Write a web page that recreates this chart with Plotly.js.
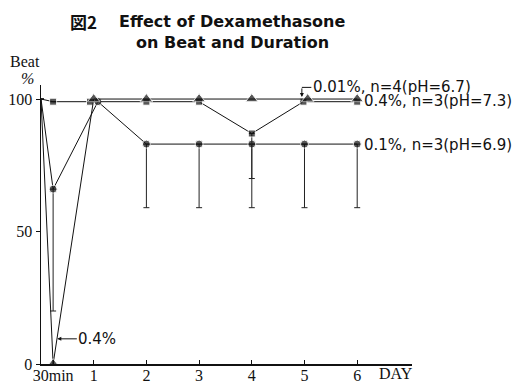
<!DOCTYPE html>
<html>
<head>
<meta charset="utf-8">
<script src="https://cdn.plot.ly/plotly-3.0.1.min.js"></script>
<style>html,body{margin:0;padding:0;background:#fff;}#chart{width:526px;height:384px;}</style>
</head>
<body>
<div id="chart"></div>
<script>
// ---- data ----
const tickVals = [0.23, 1, 2, 3, 4, 5, 6];
const tickLabels = ['30min', '1', '2', '3', '4', '5', '6'];

// 0.01%, n=4 (pH=6.7)  squares
const xSq = [0, 0.23, 0.93, 2, 3, 4, 4.98, 6];
const ySq = [100, 99, 99, 99, 99, 87, 99, 99];
const errSq = [0, 0, 0, 0, 0, 17, 0, 0];

// 0.4%, n=3 (pH=7.3)  triangles
const xTri = [0, 0.23, 1, 2, 3, 4, 5.06, 6];
const yTri = [100, 0, 100, 100, 100, 100, 100, 100];

// 0.1%, n=3 (pH=6.9)  circles
const xCir = [0, 0.23, 1.08, 2, 3, 4, 5, 6];
const yCir = [100, 66, 99, 83, 83, 83, 83, 83];
const errCir = [0, 46, 0, 24, 24, 24, 24, 24];

const lbl001 = '0.01%, n=4(pH=6.7)';
const lbl04 = '0.4%, n=3(pH=7.3)';
const lbl01 = '0.1%, n=3(pH=6.9)';

const firstHidden = (n, s) => Array.from({length: n}, (_, i) => i === 0 ? 0 : s);

const traces = [
  {
    x: xCir, y: yCir, mode: 'lines+markers', name: lbl01,
    line: {color: '#111', width: 1},
    marker: {symbol: 'circle', size: firstHidden(xCir.length, 8), color: '#111'},
    error_y: {type: 'data', symmetric: false, array: xCir.map(() => 0), arrayminus: errCir,
              color: '#222', thickness: 1, width: 3}
  },
  {
    x: xSq, y: ySq, mode: 'lines+markers', name: lbl001,
    line: {color: '#111', width: 1},
    marker: {symbol: 'square', size: firstHidden(xSq.length, 7), color: '#111'},
    error_y: {type: 'data', symmetric: false, array: xSq.map(() => 0), arrayminus: errSq,
              color: '#222', thickness: 1, width: 3}
  },
  {
    x: xTri, y: yTri, mode: 'lines+markers', name: lbl04,
    line: {color: '#111', width: 1},
    marker: {symbol: 'triangle-up', size: firstHidden(xTri.length, 11), color: '#111'}
  }
];

const sans = 'DejaVu Sans, sans-serif';
const serif = 'Liberation Serif, DejaVu Serif, serif';

const layout = {
  width: 526, height: 384,
  margin: {l: 41, r: 114, t: 85, b: 20},
  paper_bgcolor: '#fff', plot_bgcolor: '#fff',
  showlegend: false,
  xaxis: {
    range: [0, 7.04], tickvals: tickVals, ticktext: tickLabels,
    ticks: 'inside', ticklen: 4, tickcolor: '#111',
    showline: true, linecolor: '#111', linewidth: 1.5,
    showgrid: false, zeroline: false,
    ticklabelstandoff: -4,
    tickfont: {family: serif, size: 16, color: '#111'}
  },
  yaxis: {
    range: [0, 105.3], tickvals: [0, 50, 100],
    ticks: 'outside', ticklen: 4, tickcolor: '#111',
    showline: true, linecolor: '#111', linewidth: 1.5,
    showgrid: false, zeroline: false,
    tickfont: {family: serif, size: 16, color: '#111'}
  },
  shapes: [
    {type: 'line', xref: 'x', yref: 'y', x0: 5.13, x1: 4.95, y0: 104.4, y1: 104.4,
     line: {color: '#111', width: 1}}
  ],
  annotations: [
    {xref: 'paper', yref: 'paper', x: (68 - 41) / 371, y: (364 - 21) / 279, xanchor: 'left', yanchor: 'middle',
     text: '<b>図2</b>', showarrow: false, font: {family: 'Noto Sans CJK JP, DejaVu Sans', size: 17, color: '#111'}},
    {xref: 'paper', yref: 'paper', x: (232 - 41) / 371, y: (364 - 21) / 279, xanchor: 'center', yanchor: 'middle',
     text: '<b>Effect of Dexamethasone</b>', showarrow: false, font: {family: 'DejaVu Sans', size: 16, color: '#111'}},
    {xref: 'paper', yref: 'paper', x: (232 - 41) / 371, y: (364 - 43) / 279, xanchor: 'center', yanchor: 'middle',
     text: '<b>on Beat and Duration</b>', showarrow: false, font: {family: 'DejaVu Sans', size: 16, color: '#111'}},
    {xref: 'paper', yref: 'paper', x: (25 - 41) / 371, y: (364 - 61) / 279, xanchor: 'center', yanchor: 'middle',
     text: 'Beat', showarrow: false, font: {family: serif, size: 16, color: '#111'}},
    {xref: 'paper', yref: 'paper', x: (27 - 41) / 371, y: (364 - 78) / 279, xanchor: 'center', yanchor: 'middle',
     text: '<i>%</i>', showarrow: false, font: {family: serif, size: 16, color: '#111'}},
    {xref: 'paper', yref: 'paper', x: (396 - 41) / 371, y: (364 - 374) / 279, xanchor: 'center', yanchor: 'middle',
     text: 'DAY', showarrow: false, font: {family: serif, size: 16, color: '#111'}},
    {xref: 'x', yref: 'y', x: 5.13, y: 104.4, xanchor: 'left', yanchor: 'middle',
     text: lbl001, showarrow: false, font: {family: sans, size: 15, color: '#111'}},
    {xref: 'x', yref: 'y', x: 6.1, y: 99.3, xanchor: 'left', yanchor: 'middle',
     text: lbl04, showarrow: false, font: {family: sans, size: 15, color: '#111'}},
    {xref: 'x', yref: 'y', x: 6.1, y: 82.6, xanchor: 'left', yanchor: 'middle',
     text: lbl01, showarrow: false, font: {family: sans, size: 15, color: '#111'}},
    {xref: 'x', yref: 'y', x: 4.95, y: 100.8, ax: 0, ay: -10, axref: 'pixel', ayref: 'pixel',
     text: '', showarrow: true, arrowhead: 2, arrowsize: 0.8, arrowwidth: 1, arrowcolor: '#111', standoff: 0},
    {xref: 'x', yref: 'y', x: 0.31, y: 9.5, ax: 40, ay: 0, axref: 'pixel', ayref: 'pixel',
     text: '0.4%', showarrow: true, arrowhead: 2, arrowsize: 0.8, arrowwidth: 1, arrowcolor: '#111', standoff: 0,
     font: {family: 'DejaVu Sans', size: 15, color: '#111'}}
  ]
};

Plotly.newPlot('chart', traces, layout, {displayModeBar: false, staticPlot: true});
</script>
</body>
</html>
